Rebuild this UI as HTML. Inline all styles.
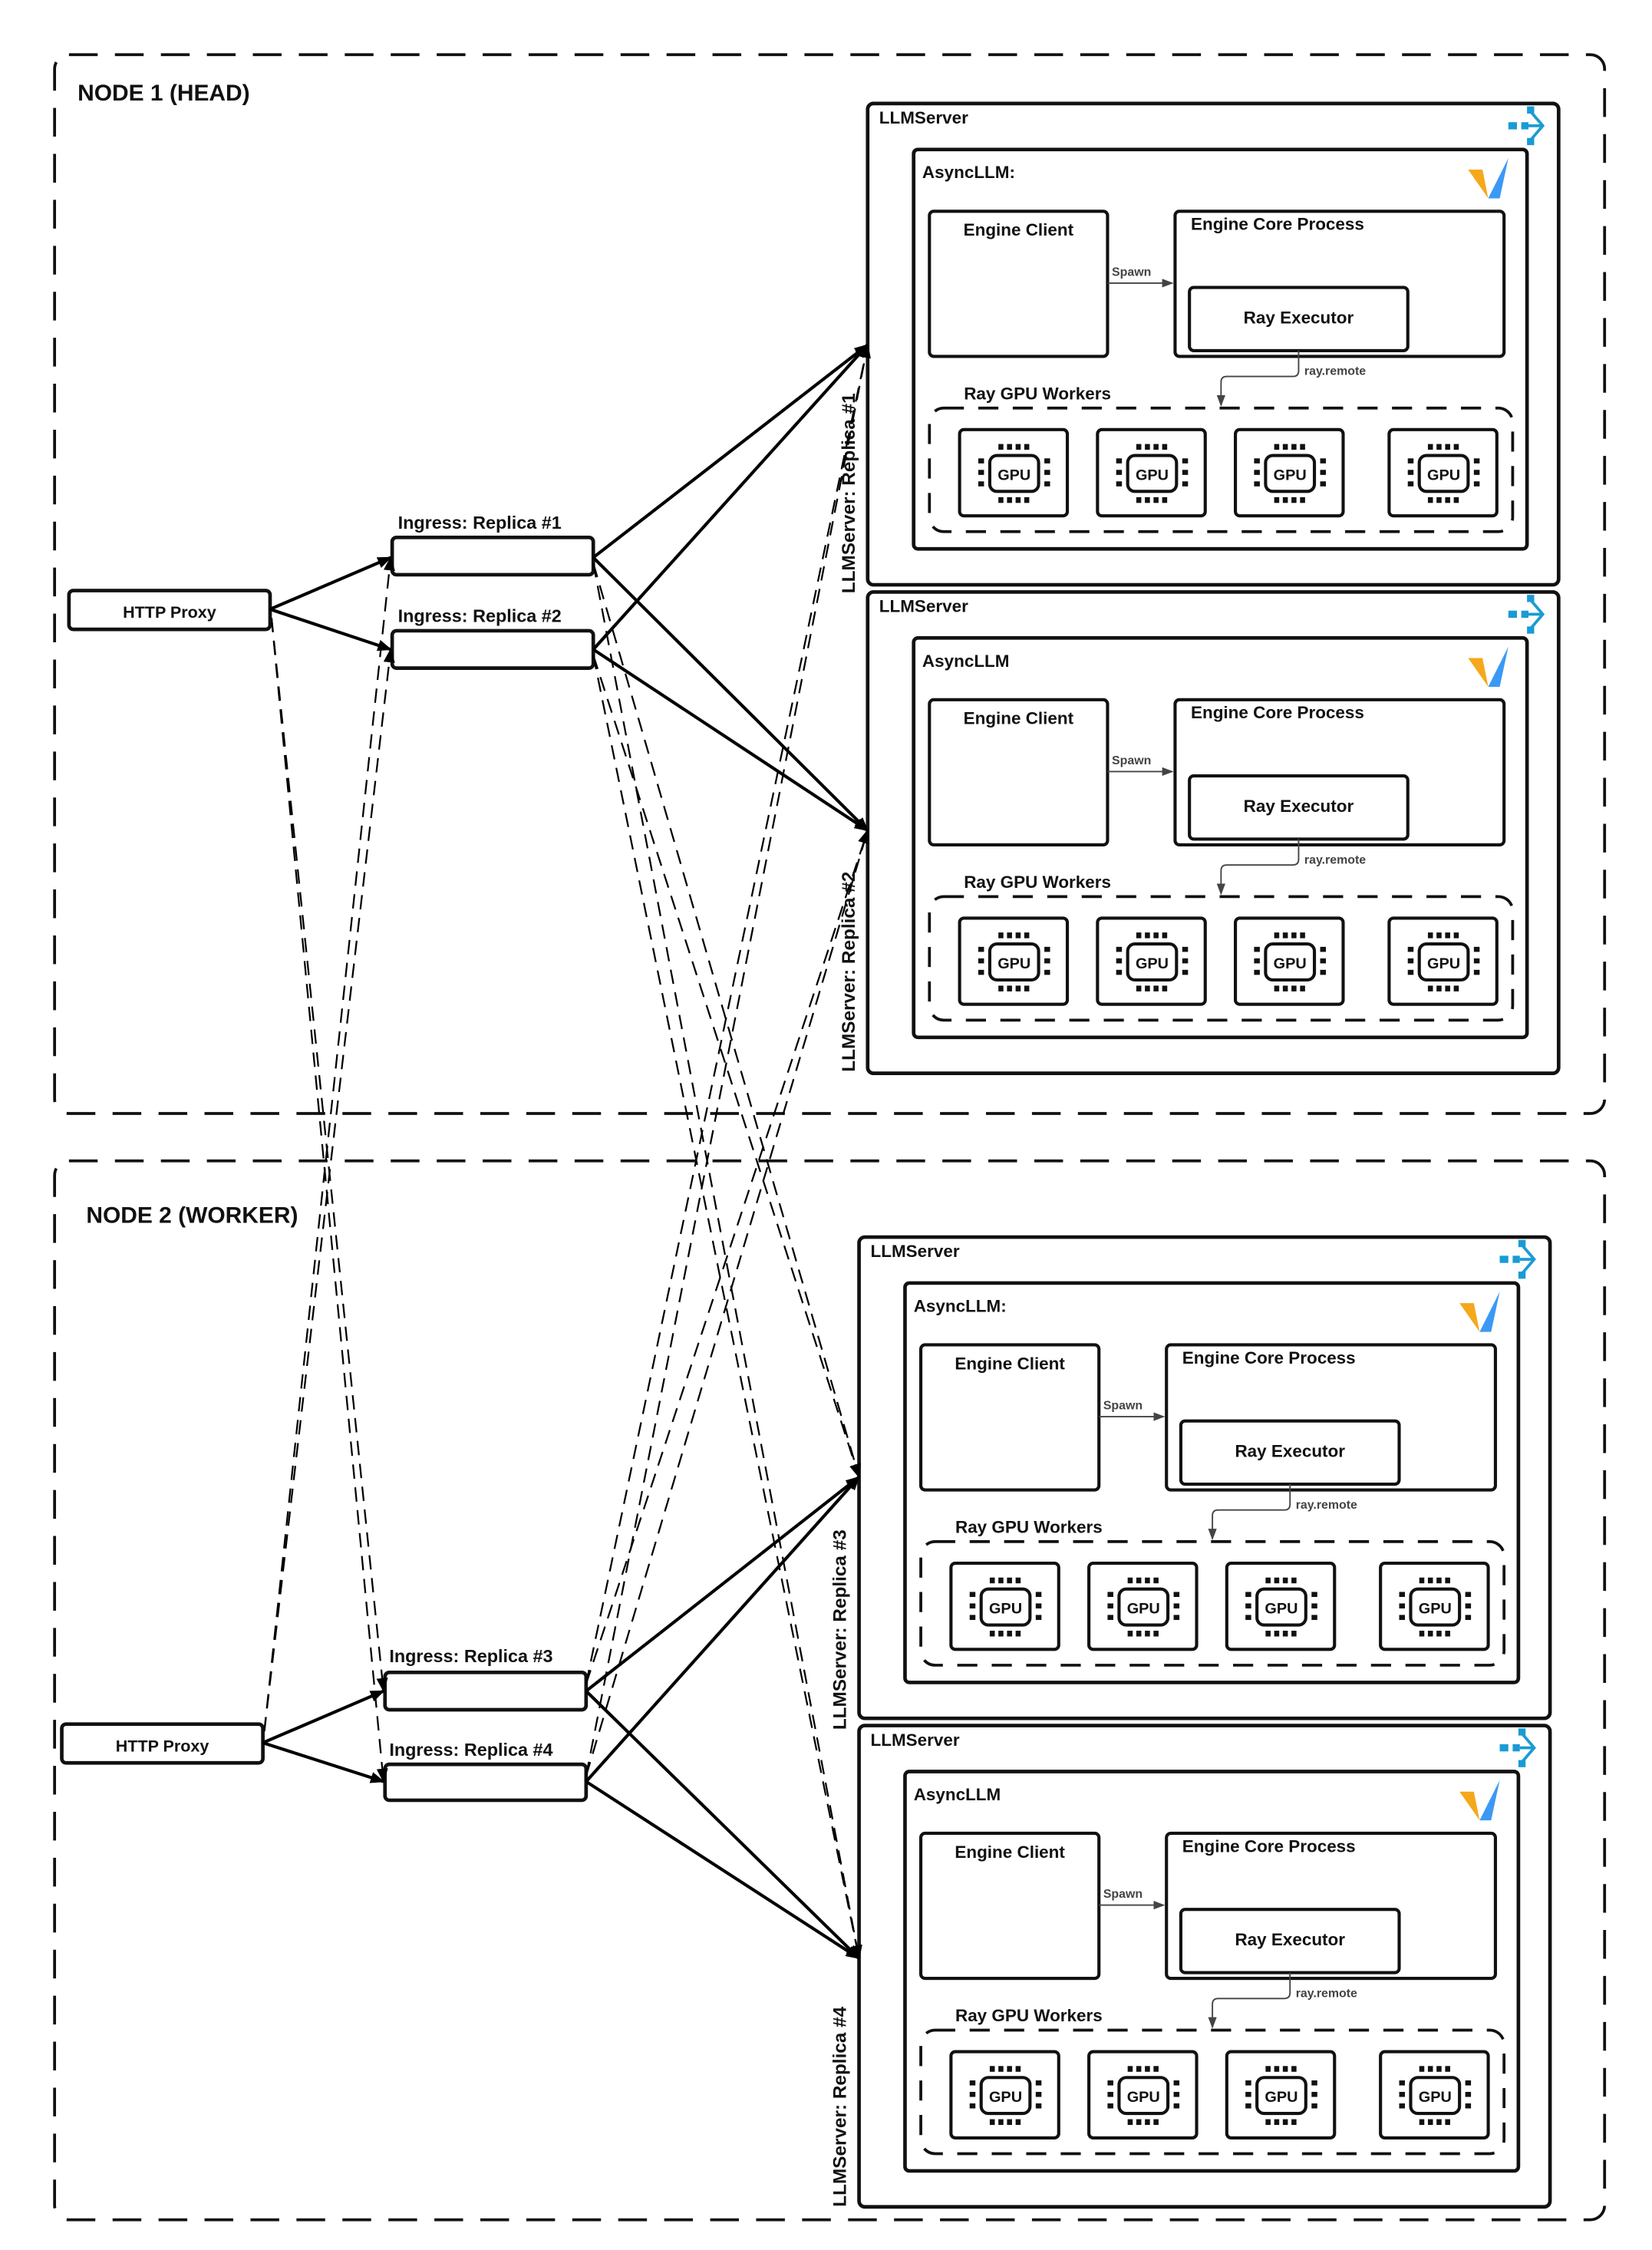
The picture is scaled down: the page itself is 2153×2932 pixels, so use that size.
<!DOCTYPE html>
<html><head><meta charset="utf-8"><style>
html,body{margin:0;padding:0;background:#fff}
svg{display:block}
text{font-family:"Liberation Sans",sans-serif;font-weight:bold;fill:#111}
</style></head><body>
<svg width="2153" height="2932" viewBox="0 0 1150 1566" xmlns="http://www.w3.org/2000/svg">
<defs>
<marker id="ah" markerWidth="10" markerHeight="8" refX="9" refY="4" orient="auto" markerUnits="userSpaceOnUse"><path d="M0,0 L10,4 L0,8 z" fill="#000"/></marker>
<marker id="ahs" markerWidth="8" markerHeight="6" refX="7" refY="3" orient="auto" markerUnits="userSpaceOnUse"><path d="M0,0 L8,3 L0,6 z" fill="#444"/></marker>
<g id="gpu">
<rect x="0" y="0" width="75" height="60" rx="3" fill="#fff" stroke="#111" stroke-width="2.2"/>
<rect x="21" y="18" width="34" height="25" rx="5" fill="none" stroke="#111" stroke-width="2.2"/>
<g fill="#111">
<rect x="27" y="10" width="3.5" height="4"/><rect x="33" y="10" width="3.5" height="4"/><rect x="39" y="10" width="3.5" height="4"/><rect x="45" y="10" width="3.5" height="4"/>
<rect x="27" y="47" width="3.5" height="4"/><rect x="33" y="47" width="3.5" height="4"/><rect x="39" y="47" width="3.5" height="4"/><rect x="45" y="47" width="3.5" height="4"/>
<rect x="13" y="20" width="4" height="3.5"/><rect x="13" y="28" width="4" height="3.5"/><rect x="13" y="36" width="4" height="3.5"/>
<rect x="59" y="20" width="4" height="3.5"/><rect x="59" y="28" width="4" height="3.5"/><rect x="59" y="36" width="4" height="3.5"/>
</g>
</g>
<g id="serve" fill="#1a9bd4">
<rect x="0" y="11" width="6" height="5"/><rect x="9" y="11" width="5" height="5"/><rect x="14" y="12.5" width="10" height="2"/>
<rect x="13" y="0" width="5" height="5"/><rect x="13" y="22" width="5" height="5"/>
<path d="M15,3 L24,13.5 L15,24" fill="none" stroke="#1a9bd4" stroke-width="2"/>
</g>
<g id="vllm">
<path d="M0,8 L10,8 L14,28 Z" fill="#f5a81c"/>
<path d="M14,28 L28,0 L22,28 Z" fill="#3b99f5"/>
</g>
</defs>

<rect x="38" y="38" width="1079" height="737" rx="10" fill="none" stroke="#111" stroke-width="2" stroke-dasharray="20 12"/>
<text x="54" y="70" font-size="16">NODE 1 (HEAD)</text>
<rect x="38" y="808" width="1079" height="737" rx="10" fill="none" stroke="#111" stroke-width="2" stroke-dasharray="20 12"/>
<text x="60" y="851" font-size="16">NODE 2 (WORKER)</text>

<g transform="translate(604,72)">
<rect x="0" y="0" width="481" height="335" rx="4" fill="none" stroke="#111" stroke-width="2.5"/>
<text x="8" y="14" font-size="12">LLMServer</text>
<use href="#serve" x="446" y="2"/>
<rect x="32" y="32" width="427" height="278" rx="3" fill="none" stroke="#111" stroke-width="2.5"/>
<text x="38" y="52" font-size="12">AsyncLLM:</text>
<use href="#vllm" x="418" y="38"/>
<rect x="43" y="75" width="124" height="101" rx="3" fill="none" stroke="#111" stroke-width="2.2"/>
<text x="105" y="92" font-size="12" text-anchor="middle">Engine Client</text>
<rect x="214" y="75" width="229" height="101" rx="3" fill="none" stroke="#111" stroke-width="2.2"/>
<text x="225" y="88" font-size="12">Engine Core Process</text>
<rect x="224" y="128" width="152" height="44" rx="3" fill="none" stroke="#111" stroke-width="2.2"/>
<text x="300" y="153" font-size="12" text-anchor="middle">Ray Executor</text>
<line x1="167" y1="125" x2="212" y2="125" stroke="#444" stroke-width="1" marker-end="url(#ahs)"/>
<text x="170" y="120" font-size="8.5" style="fill:#444">Spawn</text>
<path d="M300,172 V186 Q300,190 296,190 H250 Q246,190 246,194 V210" fill="none" stroke="#444" stroke-width="1" marker-end="url(#ahs)"/>
<text x="304" y="189" font-size="8.5" style="fill:#444">ray.remote</text>
<text x="67" y="206" font-size="12">Ray GPU Workers</text>
<rect x="43" y="212" width="406" height="86" rx="10" fill="none" stroke="#111" stroke-width="2" stroke-dasharray="14 10"/>
<use href="#gpu" x="64" y="227"/><use href="#gpu" x="160" y="227"/><use href="#gpu" x="256" y="227"/><use href="#gpu" x="363" y="227"/>
<text x="102" y="262" font-size="10.5" text-anchor="middle" textLength="23" lengthAdjust="spacingAndGlyphs">GPU</text><text x="198" y="262" font-size="10.5" text-anchor="middle" textLength="23" lengthAdjust="spacingAndGlyphs">GPU</text><text x="294" y="262" font-size="10.5" text-anchor="middle" textLength="23" lengthAdjust="spacingAndGlyphs">GPU</text><text x="401" y="262" font-size="10.5" text-anchor="middle" textLength="23" lengthAdjust="spacingAndGlyphs">GPU</text>
</g>

<g transform="translate(604,412)">
<rect x="0" y="0" width="481" height="335" rx="4" fill="none" stroke="#111" stroke-width="2.5"/>
<text x="8" y="14" font-size="12">LLMServer</text>
<use href="#serve" x="446" y="2"/>
<rect x="32" y="32" width="427" height="278" rx="3" fill="none" stroke="#111" stroke-width="2.5"/>
<text x="38" y="52" font-size="12">AsyncLLM</text>
<use href="#vllm" x="418" y="38"/>
<rect x="43" y="75" width="124" height="101" rx="3" fill="none" stroke="#111" stroke-width="2.2"/>
<text x="105" y="92" font-size="12" text-anchor="middle">Engine Client</text>
<rect x="214" y="75" width="229" height="101" rx="3" fill="none" stroke="#111" stroke-width="2.2"/>
<text x="225" y="88" font-size="12">Engine Core Process</text>
<rect x="224" y="128" width="152" height="44" rx="3" fill="none" stroke="#111" stroke-width="2.2"/>
<text x="300" y="153" font-size="12" text-anchor="middle">Ray Executor</text>
<line x1="167" y1="125" x2="212" y2="125" stroke="#444" stroke-width="1" marker-end="url(#ahs)"/>
<text x="170" y="120" font-size="8.5" style="fill:#444">Spawn</text>
<path d="M300,172 V186 Q300,190 296,190 H250 Q246,190 246,194 V210" fill="none" stroke="#444" stroke-width="1" marker-end="url(#ahs)"/>
<text x="304" y="189" font-size="8.5" style="fill:#444">ray.remote</text>
<text x="67" y="206" font-size="12">Ray GPU Workers</text>
<rect x="43" y="212" width="406" height="86" rx="10" fill="none" stroke="#111" stroke-width="2" stroke-dasharray="14 10"/>
<use href="#gpu" x="64" y="227"/><use href="#gpu" x="160" y="227"/><use href="#gpu" x="256" y="227"/><use href="#gpu" x="363" y="227"/>
<text x="102" y="262" font-size="10.5" text-anchor="middle" textLength="23" lengthAdjust="spacingAndGlyphs">GPU</text><text x="198" y="262" font-size="10.5" text-anchor="middle" textLength="23" lengthAdjust="spacingAndGlyphs">GPU</text><text x="294" y="262" font-size="10.5" text-anchor="middle" textLength="23" lengthAdjust="spacingAndGlyphs">GPU</text><text x="401" y="262" font-size="10.5" text-anchor="middle" textLength="23" lengthAdjust="spacingAndGlyphs">GPU</text>
</g>

<g transform="translate(598,861)">
<rect x="0" y="0" width="481" height="335" rx="4" fill="none" stroke="#111" stroke-width="2.5"/>
<text x="8" y="14" font-size="12">LLMServer</text>
<use href="#serve" x="446" y="2"/>
<rect x="32" y="32" width="427" height="278" rx="3" fill="none" stroke="#111" stroke-width="2.5"/>
<text x="38" y="52" font-size="12">AsyncLLM:</text>
<use href="#vllm" x="418" y="38"/>
<rect x="43" y="75" width="124" height="101" rx="3" fill="none" stroke="#111" stroke-width="2.2"/>
<text x="105" y="92" font-size="12" text-anchor="middle">Engine Client</text>
<rect x="214" y="75" width="229" height="101" rx="3" fill="none" stroke="#111" stroke-width="2.2"/>
<text x="225" y="88" font-size="12">Engine Core Process</text>
<rect x="224" y="128" width="152" height="44" rx="3" fill="none" stroke="#111" stroke-width="2.2"/>
<text x="300" y="153" font-size="12" text-anchor="middle">Ray Executor</text>
<line x1="167" y1="125" x2="212" y2="125" stroke="#444" stroke-width="1" marker-end="url(#ahs)"/>
<text x="170" y="120" font-size="8.5" style="fill:#444">Spawn</text>
<path d="M300,172 V186 Q300,190 296,190 H250 Q246,190 246,194 V210" fill="none" stroke="#444" stroke-width="1" marker-end="url(#ahs)"/>
<text x="304" y="189" font-size="8.5" style="fill:#444">ray.remote</text>
<text x="67" y="206" font-size="12">Ray GPU Workers</text>
<rect x="43" y="212" width="406" height="86" rx="10" fill="none" stroke="#111" stroke-width="2" stroke-dasharray="14 10"/>
<use href="#gpu" x="64" y="227"/><use href="#gpu" x="160" y="227"/><use href="#gpu" x="256" y="227"/><use href="#gpu" x="363" y="227"/>
<text x="102" y="262" font-size="10.5" text-anchor="middle" textLength="23" lengthAdjust="spacingAndGlyphs">GPU</text><text x="198" y="262" font-size="10.5" text-anchor="middle" textLength="23" lengthAdjust="spacingAndGlyphs">GPU</text><text x="294" y="262" font-size="10.5" text-anchor="middle" textLength="23" lengthAdjust="spacingAndGlyphs">GPU</text><text x="401" y="262" font-size="10.5" text-anchor="middle" textLength="23" lengthAdjust="spacingAndGlyphs">GPU</text>
</g>

<g transform="translate(598,1201)">
<rect x="0" y="0" width="481" height="335" rx="4" fill="none" stroke="#111" stroke-width="2.5"/>
<text x="8" y="14" font-size="12">LLMServer</text>
<use href="#serve" x="446" y="2"/>
<rect x="32" y="32" width="427" height="278" rx="3" fill="none" stroke="#111" stroke-width="2.5"/>
<text x="38" y="52" font-size="12">AsyncLLM</text>
<use href="#vllm" x="418" y="38"/>
<rect x="43" y="75" width="124" height="101" rx="3" fill="none" stroke="#111" stroke-width="2.2"/>
<text x="105" y="92" font-size="12" text-anchor="middle">Engine Client</text>
<rect x="214" y="75" width="229" height="101" rx="3" fill="none" stroke="#111" stroke-width="2.2"/>
<text x="225" y="88" font-size="12">Engine Core Process</text>
<rect x="224" y="128" width="152" height="44" rx="3" fill="none" stroke="#111" stroke-width="2.2"/>
<text x="300" y="153" font-size="12" text-anchor="middle">Ray Executor</text>
<line x1="167" y1="125" x2="212" y2="125" stroke="#444" stroke-width="1" marker-end="url(#ahs)"/>
<text x="170" y="120" font-size="8.5" style="fill:#444">Spawn</text>
<path d="M300,172 V186 Q300,190 296,190 H250 Q246,190 246,194 V210" fill="none" stroke="#444" stroke-width="1" marker-end="url(#ahs)"/>
<text x="304" y="189" font-size="8.5" style="fill:#444">ray.remote</text>
<text x="67" y="206" font-size="12">Ray GPU Workers</text>
<rect x="43" y="212" width="406" height="86" rx="10" fill="none" stroke="#111" stroke-width="2" stroke-dasharray="14 10"/>
<use href="#gpu" x="64" y="227"/><use href="#gpu" x="160" y="227"/><use href="#gpu" x="256" y="227"/><use href="#gpu" x="363" y="227"/>
<text x="102" y="262" font-size="10.5" text-anchor="middle" textLength="23" lengthAdjust="spacingAndGlyphs">GPU</text><text x="198" y="262" font-size="10.5" text-anchor="middle" textLength="23" lengthAdjust="spacingAndGlyphs">GPU</text><text x="294" y="262" font-size="10.5" text-anchor="middle" textLength="23" lengthAdjust="spacingAndGlyphs">GPU</text><text x="401" y="262" font-size="10.5" text-anchor="middle" textLength="23" lengthAdjust="spacingAndGlyphs">GPU</text>
</g>

<text transform="translate(595,413) rotate(-90)" font-size="13">LLMServer: Replica #1</text>
<text transform="translate(595,746) rotate(-90)" font-size="13">LLMServer: Replica #2</text>
<text transform="translate(589,1204) rotate(-90)" font-size="13">LLMServer: Replica #3</text>
<text transform="translate(589,1536) rotate(-90)" font-size="13">LLMServer: Replica #4</text>

<rect x="48" y="411" width="140" height="27" rx="3" fill="#fff" stroke="#111" stroke-width="2.5"/>
<text x="118" y="430" font-size="11.5" text-anchor="middle">HTTP Proxy</text>
<rect x="43" y="1200" width="140" height="27" rx="3" fill="#fff" stroke="#111" stroke-width="2.5"/>
<text x="113" y="1219" font-size="11.5" text-anchor="middle">HTTP Proxy</text>

<rect x="273" y="374" width="140" height="26" rx="3" fill="#fff" stroke="#111" stroke-width="2.5"/>
<text x="277" y="368" font-size="12.5">Ingress: Replica #1</text>
<rect x="273" y="439" width="140" height="26" rx="3" fill="#fff" stroke="#111" stroke-width="2.5"/>
<text x="277" y="433" font-size="12.5">Ingress: Replica #2</text>
<rect x="268" y="1164" width="140" height="26" rx="3" fill="#fff" stroke="#111" stroke-width="2.5"/>
<text x="271" y="1157" font-size="12.5">Ingress: Replica #3</text>
<rect x="268" y="1228" width="140" height="25" rx="3" fill="#fff" stroke="#111" stroke-width="2.5"/>
<text x="271" y="1222" font-size="12.5">Ingress: Replica #4</text>

<g stroke="#000" stroke-width="2.2" fill="none" marker-end="url(#ah)">
<line x1="188" y1="424" x2="272" y2="388"/>
<line x1="188" y1="424" x2="272" y2="452"/>
<line x1="183" y1="1213" x2="267" y2="1177"/>
<line x1="183" y1="1213" x2="267" y2="1240"/>
<line x1="413" y1="388" x2="604" y2="240"/>
<line x1="413" y1="388" x2="604" y2="578"/>
<line x1="413" y1="452" x2="604" y2="240"/>
<line x1="413" y1="452" x2="604" y2="578"/>
<line x1="408" y1="1177" x2="598" y2="1028"/>
<line x1="408" y1="1177" x2="598" y2="1363"/>
<line x1="408" y1="1240" x2="598" y2="1028"/>
<line x1="408" y1="1240" x2="598" y2="1363"/>
</g>

<g stroke="#000" stroke-width="1.2" fill="none" stroke-dasharray="10 6" marker-end="url(#ah)">
<line x1="189" y1="430" x2="267" y2="1177"/>
<line x1="189" y1="430" x2="267" y2="1240"/>
<line x1="184" y1="1205" x2="272" y2="388"/>
<line x1="184" y1="1205" x2="272" y2="452"/>
<line x1="413" y1="392" x2="598" y2="1028"/>
<line x1="413" y1="392" x2="598" y2="1363"/>
<line x1="413" y1="456" x2="598" y2="1028"/>
<line x1="413" y1="456" x2="598" y2="1363"/>
<line x1="408" y1="1172" x2="604" y2="240"/>
<line x1="408" y1="1172" x2="604" y2="578"/>
<line x1="408" y1="1236" x2="604" y2="240"/>
<line x1="408" y1="1236" x2="604" y2="578"/>
</g>
</svg>
</body></html>
